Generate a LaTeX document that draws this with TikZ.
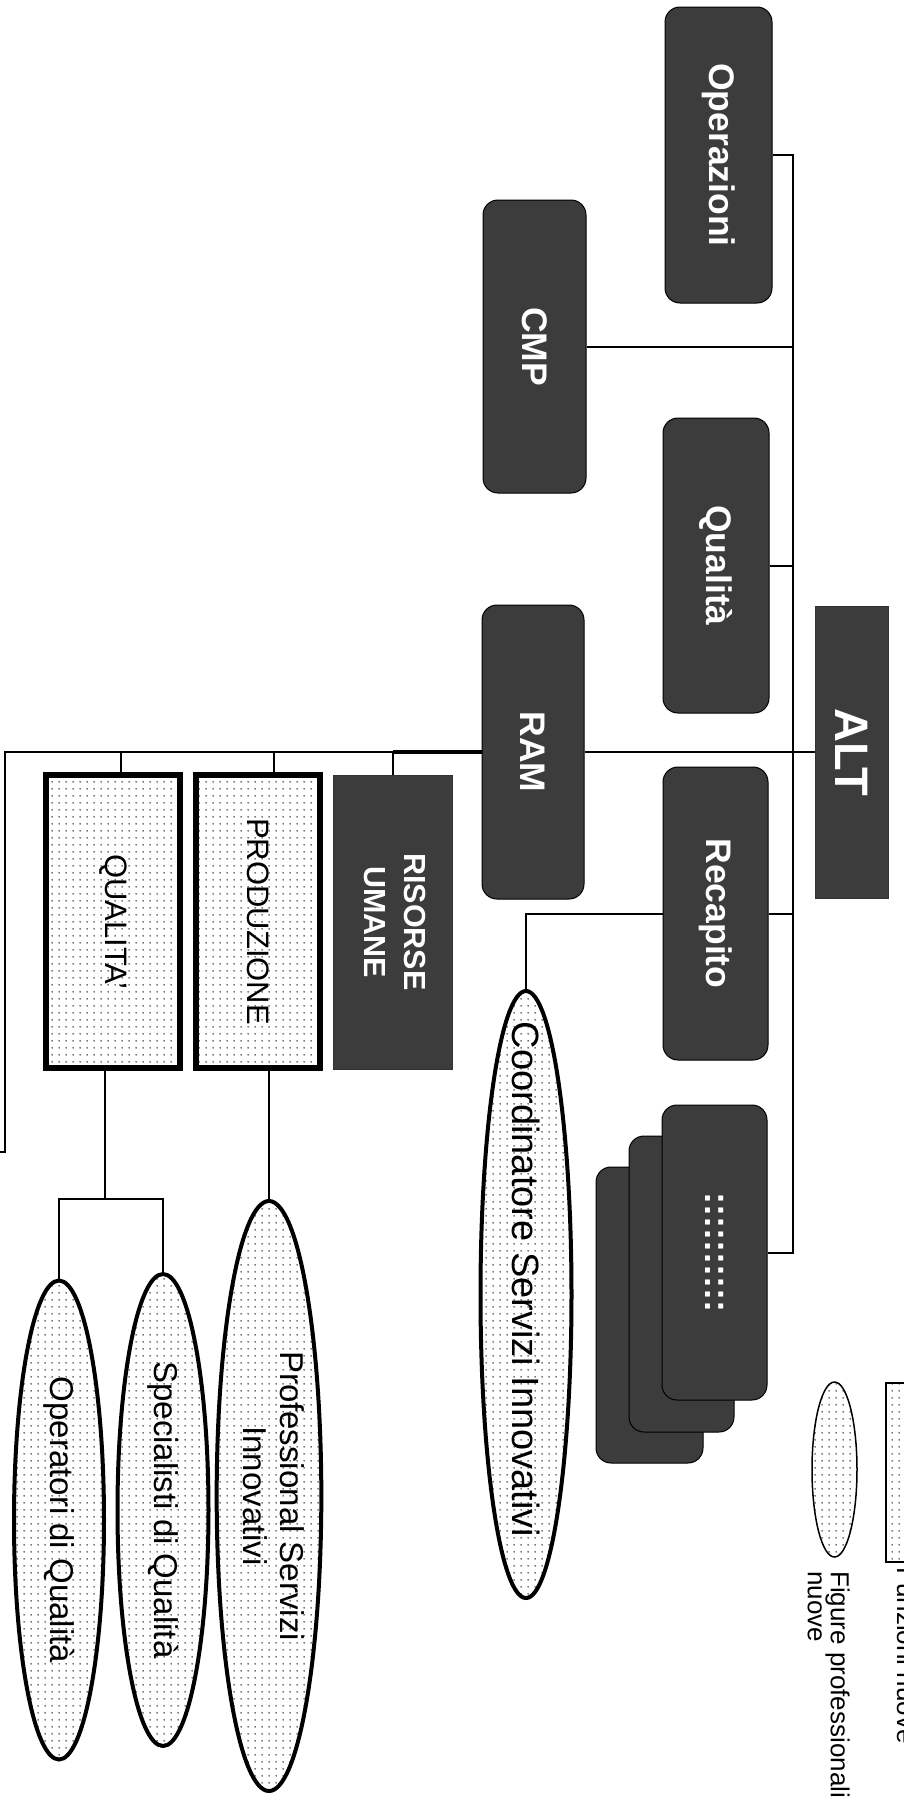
\documentclass[tikz,border=0pt]{standalone}
\usepackage{fontspec}
\setmainfont{Liberation Sans}
\usetikzlibrary{shapes.geometric,patterns.meta,calc}
\definecolor{boxgray}{HTML}{3C3C3C}
\tikzdeclarepattern{
  name=smalldots,
  type=uncolored,
  bounding box={(0pt,0pt) and (7pt,7pt)},
  tile size={(7pt,7pt)},
  code={\pgfpathcircle{\pgfpoint{3.5pt}{3.5pt}}{1pt}\pgfusepath{fill}}
}
\tikzset{
  darkbox/.style={draw=black, line width=1pt, fill=boxgray, rounded corners=15pt, inner sep=0pt, text=white,
    font=\fontsize{35.5}{40}\selectfont\bfseries},
  sharpbox/.style={draw=black!80, line width=0.8pt, fill=boxgray, inner sep=0pt, text=white},
  newbox/.style={draw=black, line width=6pt, pattern=smalldots, pattern color=black!70, inner sep=0pt,
    font=\fontsize{31}{36}\selectfont},
  newfig/.style={ellipse, draw=black, line width=4pt, pattern=smalldots, pattern color=black!70, inner sep=0pt,
    font=\fontsize{33}{37}\selectfont},
  figtext/.style={inner sep=0pt},
  conn/.style={line width=2pt},
  legtext/.style={inner sep=0pt, font=\fontsize{26}{23}\selectfont}
}
\begin{document}
\begin{tikzpicture}[x=1pt,y=-1pt]
\useasboundingbox (0,0) rectangle (904,1807);
\fill[white] (0,0) rectangle (904,1807);

% top-level units
\node[darkbox, minimum width=107, minimum height=296] (op) at (718.5,155) {\rotatebox{-90}{Operazioni}};
\node[darkbox, minimum width=103, minimum height=293] (cmp) at (534.5,346.5) {\rotatebox{-90}{CMP}};
\node[darkbox, minimum width=106, minimum height=295] (qual) at (716,565.5) {\rotatebox{-90}{Qualità}};
\node[sharpbox, minimum width=73, minimum height=292, font=\fontsize{47}{50}\selectfont\bfseries] (alt) at (851.5,752) {\rotatebox{-90}{ALT}};
\node[darkbox, minimum width=102, minimum height=294] (ram) at (533,752) {\rotatebox{-90}{RAM}};
\node[darkbox, minimum width=105, minimum height=293] (rec) at (715.5,913.5) {\rotatebox{-90}{Recapito}};

% stacked boxes
\node[darkbox, minimum width=107, minimum height=296] (st3) at (649.5,1315) {};
\node[darkbox, minimum width=105, minimum height=296] (st2) at (681.5,1284) {};
\node[darkbox, minimum width=105, minimum height=295, font=\fontsize{36}{36}\selectfont\bfseries] (st1) at (714.5,1252.5) {\rotatebox{-90}{::::::::::}};

% RAM functions
\node[sharpbox, minimum width=119, minimum height=294, font=\fontsize{30.5}{40}\selectfont\bfseries] (ris) at (392.5,922)
  {\rotatebox{-90}{\begin{tabular}{@{}c@{}}RISORSE\\UMANE\end{tabular}}};
\node[newbox, minimum width=124, minimum height=293] (prod) at (258,921.5) {\rotatebox{-90}{PRODUZIONE}};
\node[newbox, minimum width=134, minimum height=293] (qa) at (113,921.5) {\rotatebox{-90}{QUALITA'}};

% new professional figures
\node[newfig, minimum width=91, minimum height=607] (coord) at (526,1294.5) {};
\node[figtext, font=\fontsize{38}{40}\selectfont] (coordL) at ([yshift=15pt]coord.center) {\rotatebox{-90}{Coordinatore Servizi Innovativi}};
\node[newfig, minimum width=96, minimum height=590] (psi) at (269,1496)
  {\rotatebox{-90}{\begin{tabular}{@{}c@{}}Professional Servizi\\Innovativi\end{tabular}}};
\node[newfig, minimum width=91, minimum height=472] (spq) at (163,1510) {\rotatebox{-90}{Specialisti di Qualità}};
\node[newfig, minimum width=90, minimum height=479] (opq) at (59,1520) {\rotatebox{-90}{Operatori di Qualità}};

% legend
\node[draw=black, line width=2pt, pattern=smalldots, pattern color=black!70, minimum width=45, minimum height=179, inner sep=0pt] (legbox) at (908.5,1472.5) {};
\node[ellipse, draw=black, line width=1.5pt, pattern=smalldots, pattern color=black!70, minimum width=45, minimum height=175, inner sep=0pt] (legell) at (834.5,1469.5) {};
\node[legtext, rotate=-90, anchor=base west] (leg1) at (897,1567) {Funzioni nuove};
\node[legtext, rotate=-90, anchor=north west, align=left] (leg2) at (850,1571) {Figure professionali\\nuove};

% spine coordinates
\coordinate (sp1) at (793,155);
\coordinate (sp2) at (793,1252.5);
\coordinate (lt1) at (5,752);
\coordinate (lt2) at (5,1152);
\coordinate (lt3) at (0,1152);
\coordinate (qj) at (105,1199);

% connectors
\draw[conn] (op.east) -- (sp1) -- (sp2) -- (st1.east);
\draw[conn] (cmp.east) -- (cmp.east -| sp1);
\draw[conn] (qual.east) -- (qual.east -| sp1);
\draw[conn] (alt.west) -- (ram.east);
\draw[conn] (rec.east) -- (rec.east -| sp1);
\draw[conn] (rec.west) -| (coord.north);
\draw[conn] (ram.west) -- (lt1) -- (lt2) -- (lt3);
\draw[line width=4.5pt] (ram.west) -- (ris.north |- ram.west);
\draw[conn] (ris.north) -- (ris.north |- ram.west);
\draw[conn] ([xshift=16pt]prod.north) -- ([xshift=16pt]prod.north |- ram.west);
\draw[conn] ([xshift=8pt]qa.north) -- ([xshift=8pt]qa.north |- ram.west);
\draw[conn] (psi.north) -- (psi.north |- prod.south);
\draw[conn] ([xshift=-8pt]qa.south) -- (qj);
\draw[conn] (opq.north) |- (qj) -| (spq.north);
\end{tikzpicture}
\end{document}
